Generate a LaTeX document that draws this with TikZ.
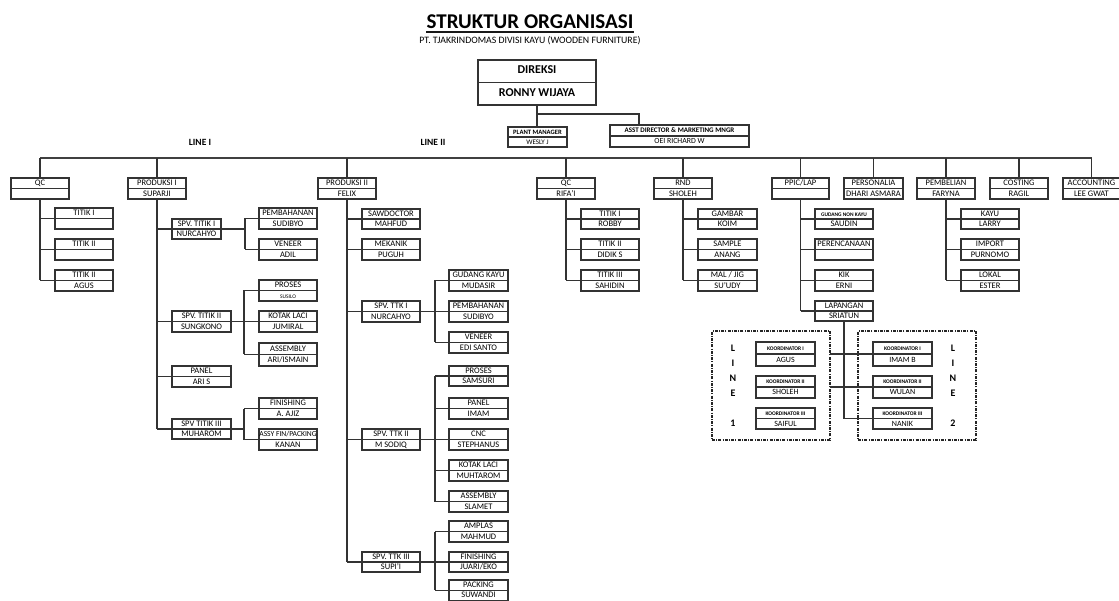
\documentclass[tikz,border=0pt]{standalone}
\usepackage{fontspec}
\setmainfont{Carlito}
\newcommand\smf{\fontsize{5.5}{6}\selectfont}
\newcommand\mdf{\fontsize{7}{8}\selectfont}
\tikzset{
  obx/.style={draw=black!80,line width=1.1pt,inner sep=0pt,outer sep=0pt,fill=white},
  obl/.style={draw=black!80,line width=1.1pt},
  otx/.style={inner sep=0pt,anchor=mid,font=\fontsize{8.5}{9}\selectfont,text=black},
  con/.style={draw=black!80,line width=1.1pt},
  busline/.style={draw=black!75,line width=1.5pt},
  dbox/.style={draw=black!85,line width=1.6pt,dash pattern=on 3pt off 1.2pt on 1pt off 1.2pt,inner sep=0pt,outer sep=0pt},
  ltr/.style={font=\bfseries\fontsize{10}{11}\selectfont,inner sep=0pt,text=black},
  lbl/.style={font=\bfseries\fontsize{9.5}{10}\selectfont,inner sep=0pt,text=black}
}
\newcommand\obox[7]{%
  \node[obx,minimum width={(#4)-(#2)},minimum height={(#5)-(#3)}] (#1) at ({((#2)+(#4))/2},{((#3)+(#5))/2}) {};
  \draw[obl] (#1.west) -- (#1.east);
  \node[otx] at ({((#2)+(#4))/2},{(3*(#3)+(#5))/4}) {#6};
  \node[otx] at ({((#2)+(#4))/2},{((#3)+3*(#5))/4}) {#7};
}
\begin{document}
\begin{tikzpicture}[x=1pt,y=-1pt]
\useasboundingbox (0,0) rectangle (1119,601);
% title
\node[inner sep=0pt,font=\bfseries\fontsize{21}{25}\selectfont,text=black] (title) at (530,22) {STRUKTUR ORGANISASI};
\draw[line width=1.4pt,black!90] ([yshift=-3pt]title.base west) -- ([yshift=-3pt]title.base east);
\node[inner sep=0pt,font=\fontsize{9.8}{11}\selectfont,text=black] (sub) at (530,41) {PT. TJAKRINDOMAS DIVISI KAYU (WOODEN FURNITURE)};
\node[lbl] (l1lab) at (200,142) {LINE I};
\node[lbl] (l2lab) at (433,142) {LINE II};
% top
\obox{dir}{478}{60}{596}{105}{\bfseries\fontsize{12}{13}\selectfont DIREKSI}{\bfseries\fontsize{12}{13}\selectfont RONNY WIJAYA}
\obox{pm}{508}{127}{567}{147}{\bfseries\fontsize{6.6}{7}\selectfont PLANT MANAGER}{\mdf WESLY J}
\obox{ad}{610}{125}{749}{147}{\bfseries\fontsize{7}{8}\selectfont ASST DIRECTOR \& MARKETING MNGR}{\fontsize{7.8}{8}\selectfont OEI RICHARD W}
\coordinate (dj) at (537,114);
\coordinate (adj) at (639,114);
\draw[con] (dir.south) -- (dir.south |- pm.north);
\draw[con] (dj) -- (adj) -- (adj |- ad.north);
% line I
\obox{qc1}{11}{178}{69}{199}{QC}{}
\obox{ta1}{55}{208}{113}{229}{TITIK I}{}
\obox{ta2}{55}{239}{113}{260}{TITIK II}{}
\obox{ta3}{55}{270}{113}{291}{TITIK II}{AGUS}
\obox{p1}{128}{178}{186}{199}{PRODUKSI I}{SUPARJI}
\obox{s11}{172}{219}{221}{239}{SPV. TITIK I}{NURCAHYO}
\obox{s12}{172}{311}{231}{332}{SPV. TITIK II}{SUNGKONO}
\obox{pan1}{172}{366}{231}{387}{PANEL}{ARI S}
\obox{s13}{172}{419}{231}{439}{SPV TITIK III}{MUHAROM}
\obox{pb1}{259}{208}{317}{229}{PEMBAHANAN}{SUDIBYO}
\obox{vn1}{259}{239}{317}{260}{VENEER}{ADIL}
\obox{pr1}{259}{280}{317}{301}{PROSES}{\smf SUSILO}
\obox{kl1}{259}{311}{317}{332}{KOTAK LACI}{JUMIRAL}
\obox{as1}{259}{343}{317}{366}{ASSEMBLY}{ARI/ISMAIN}
\obox{fi1}{259}{398}{317}{419}{FINISHING}{A. AJIZ}
\obox{ap1}{259}{429}{317}{450}{\fontsize{7.6}{8}\selectfont ASSY FIN/PACKING}{KANAN}
% line II
\obox{p2}{318}{178}{376}{199}{PRODUKSI II}{FELIX}
\obox{sd}{362}{209}{420}{229}{SAWDOCTOR}{MAHFUD}
\obox{mk}{362}{239}{420}{260}{MEKANIK}{PUGUH}
\obox{s21}{362}{301}{420}{322}{SPV. TTK I}{NURCAHYO}
\obox{s22}{362}{429}{420}{450}{SPV. TTK II}{M SODIQ}
\obox{s23}{362}{552}{420}{572}{SPV. TTK III}{SUPI'I}
\obox{gk}{449}{270}{508}{291}{GUDANG KAYU}{MUDASIR}
\obox{pb2}{449}{301}{508}{322}{PEMBAHANAN}{SUDIBYO}
\obox{vn2}{449}{332}{508}{353}{VENEER}{EDI SANTO}
\obox{pr2}{449}{366}{508}{386}{PROSES}{SAMSURI}
\obox{pn2}{449}{398}{508}{419}{PANEL}{IMAM}
\obox{cnc}{449}{429}{508}{450}{CNC}{STEPHANUS}
\obox{kl2}{449}{460}{508}{481}{KOTAK LACI}{MUHTAROM}
\obox{as2}{449}{491}{508}{512}{ASSEMBLY}{SLAMET}
\obox{am}{449}{521}{508}{542}{AMPLAS}{MAHMUD}
\obox{fi2}{449}{552}{508}{572}{FINISHING}{JUARI/EKO}
\obox{pk}{449}{580}{508}{600.5}{PACKING}{SUWANDI}
% right side
\obox{qc2}{537}{178}{595}{199}{QC}{RIFA'I}
\obox{tb1}{581}{209}{639}{229}{TITIK I}{ROBBY}
\obox{tb2}{581}{239}{639}{260}{TITIK II}{DIDIK S}
\obox{tb3}{581}{270}{639}{291}{TITIK III}{SAHIDIN}
\obox{rnd}{654}{178}{712}{199}{RND}{SHOLEH}
\obox{gb}{698}{209}{757}{229}{GAMBAR}{KOIM}
\obox{sm}{698}{239}{757}{260}{SAMPLE}{ANANG}
\obox{mj}{698}{270}{757}{291}{MAL / JIG}{SU'UDY}
\obox{ppic}{772}{178}{829}{199}{PPIC/LAP}{}
\obox{pers}{844}{178}{903}{199}{PERSONALIA}{DHARI ASMARA}
\obox{pemb}{917}{178}{975}{199}{PEMBELIAN}{FARYNA}
\obox{cost}{990}{178}{1048}{199}{COSTING}{RAGIL}
\obox{acc}{1063}{178}{1120}{199}{ACCOUNTING}{LEE GWAT}
\obox{gnk}{815}{209}{873}{229}{\bfseries\fontsize{5.4}{6}\selectfont GUDANG NON KAYU}{SAUDIN}
\obox{per}{815}{239}{873}{260}{PERENCANAAN}{}
\obox{kik}{815}{270}{873}{291}{KIK}{ERNI}
\obox{lap}{815}{301}{873}{321}{LAPANGAN}{SRIATUN}
\obox{ky}{961}{209}{1019}{229}{KAYU}{LARRY}
\obox{im}{961}{239}{1019}{260}{IMPORT}{PURNOMO}
\obox{lo}{961}{270}{1019}{291}{LOKAL}{ESTER}
% koordinator groups
\node[dbox,minimum width=118,minimum height=109] (lbox) at (771,385.5) {};
\node[dbox,minimum width=118,minimum height=109] (rbox) at (917,385.5) {};
\obox{kL1}{756}{342}{815}{366}{\bfseries\smf KOORDINATOR I}{\fontsize{8}{9}\selectfont AGUS}
\obox{kL2}{756}{376}{815}{398}{\bfseries\smf KOORDINATOR II}{\fontsize{8}{9}\selectfont SHOLEH}
\obox{kL3}{756}{408}{815}{429}{\bfseries\smf KOORDINATOR III}{\fontsize{8}{9}\selectfont SAIFUL}
\obox{kR1}{873}{342}{932}{366}{\bfseries\smf KOORDINATOR I}{\fontsize{8}{9}\selectfont IMAM B}
\obox{kR2}{873}{376}{932}{398}{\bfseries\smf KOORDINATOR II}{\fontsize{8}{9}\selectfont WULAN}
\obox{kR3}{873}{408}{932}{429}{\bfseries\smf KOORDINATOR III}{\fontsize{8}{9}\selectfont NANIK}
\node[ltr] (aL) at (733,348) {L};
\node[ltr] (bL) at (733,363) {I};
\node[ltr] (cL) at (733,378) {N};
\node[ltr] (dL) at (733,393) {E};
\node[ltr] (eL) at (733,423) {1};
\node[ltr] (aR) at (953,348) {L};
\node[ltr] (bR) at (953,363) {I};
\node[ltr] (cR) at (953,378) {N};
\node[ltr] (dR) at (953,393) {E};
\node[ltr] (eR) at (953,423) {2};
% bus
\coordinate (bus) at (0,158);
\draw[busline] (qc1.north |- bus) -- (acc.north |- bus);
\foreach \n in {qc1,p1,p2,qc2,rnd,ppic,pers,pemb,cost,acc}{
  \draw[con] (\n.north) -- (\n.north |- bus);
}
% line I connectors
\draw[con] (qc1.south) -- (qc1.south |- ta3.west);
\foreach \n in {ta1,ta2,ta3}{\draw[con] (qc1.south |- \n.west) -- (\n.west);}
\draw[con] (p1.south) -- (p1.south |- s13.west);
\foreach \n in {s11,s12,pan1,s13}{\draw[con] (p1.south |- \n.west) -- (\n.west);}
\coordinate (j11) at (245,229);
\draw[con] (s11.east) -- (j11);
\draw[con] (j11 |- pb1.west) -- (j11 |- vn1.west);
\foreach \n in {pb1,vn1}{\draw[con] (j11 |- \n.west) -- (\n.west);}
\coordinate (j12) at (244,321);
\draw[con] (s12.east) -- (kl1.west);
\draw[con] (j12 |- pr1.west) -- (j12 |- as1.west);
\foreach \n in {pr1,as1}{\draw[con] (j12 |- \n.west) -- (\n.west);}
\coordinate (j13) at (244,429);
\draw[con] (s13.east) -- (j13 |- s13.east);
\draw[con] (j13 |- fi1.west) -- (j13 |- ap1.west);
\foreach \n in {fi1,ap1}{\draw[con] (j13 |- \n.west) -- (\n.west);}
% line II connectors
\draw[con] (p2.south) -- (p2.south |- s23.west);
\foreach \n in {sd,mk,s21,s22,s23}{\draw[con] (p2.south |- \n.west) -- (\n.west);}
\coordinate (j2) at (435,0);
\draw[con] (s21.east) -- (j2 |- s21.east);
\draw[con] (j2 |- gk.west) -- (j2 |- vn2.west);
\foreach \n in {gk,pb2,vn2}{\draw[con] (j2 |- \n.west) -- (\n.west);}
\draw[con] (s22.east) -- (cnc.west);
\draw[con] (j2 |- pr2.west) -- (j2 |- as2.west);
\foreach \n in {pr2,pn2,kl2,as2}{\draw[con] (j2 |- \n.west) -- (\n.west);}
\draw[con] (s23.east) -- (j2 |- s23.east);
\draw[con] (j2 |- am.west) -- (j2 |- pk.west);
\foreach \n in {am,fi2,pk}{\draw[con] (j2 |- \n.west) -- (\n.west);}
% right connectors
\draw[con] (qc2.south) -- (qc2.south |- tb3.west);
\foreach \n in {tb1,tb2,tb3}{\draw[con] (qc2.south |- \n.west) -- (\n.west);}
\draw[con] (rnd.south) -- (rnd.south |- mj.west);
\foreach \n in {gb,sm,mj}{\draw[con] (rnd.south |- \n.west) -- (\n.west);}
\draw[con] (ppic.south) -- (ppic.south |- lap.west);
\foreach \n in {gnk,per,kik,lap}{\draw[con] (ppic.south |- \n.west) -- (\n.west);}
\draw[con] (pemb.south) -- (pemb.south |- lo.west);
\foreach \n in {ky,im,lo}{\draw[con] (pemb.south |- \n.west) -- (\n.west);}
\draw[con] (lap.south) -- (lap.south |- kR3.west) -- (kR3.west);
\draw[con] (lbox.east |- kR1.west) -- (kR1.west);
\draw[con] (lbox.east |- kR2.west) -- (kR2.west);
\end{tikzpicture}
\end{document}
